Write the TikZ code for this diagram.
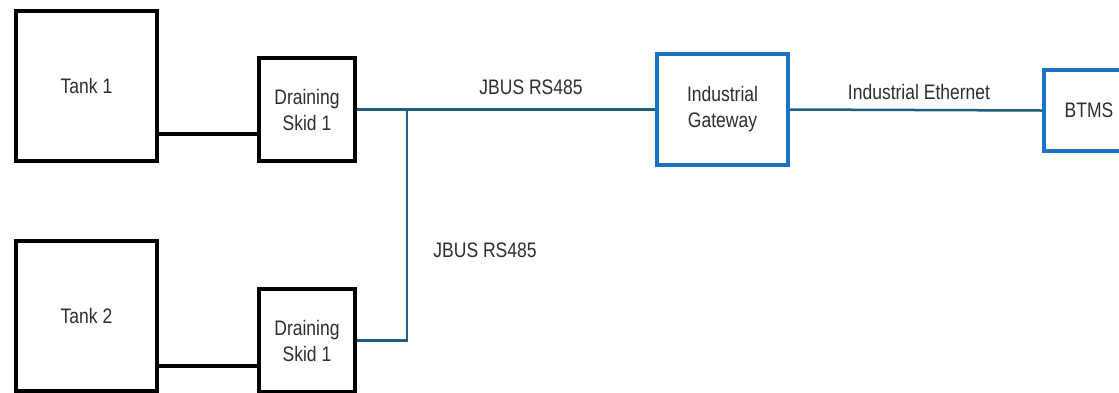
\documentclass[tikz,border=0pt]{standalone}
\usepackage{fontspec}
\setmainfont{Liberation Sans}
\usepackage{graphicx}
\usepackage{tikz}
\usetikzlibrary{positioning,calc}

\definecolor{gwblue}{HTML}{1A72C4}
\definecolor{buscol}{HTML}{1F5F82}
\definecolor{txtgray}{HTML}{2E2E2E}
\newcommand{\tallt}[1]{\scalebox{1}[1.2]{#1}}

\begin{document}
\begin{tikzpicture}[x=1pt,y=-1pt,
    unit/.style={rectangle,draw=black,line width=4pt,fill=white,inner sep=0pt,align=center,text=txtgray,font=\fontsize{17.5}{26}\selectfont},
    gate/.style={rectangle,draw=gwblue,line width=4pt,fill=white,inner sep=0pt,align=center,text=txtgray,font=\fontsize{17.5}{26}\selectfont},
    pipe/.style={draw=black,line width=4pt},
    bus/.style={draw=buscol,line width=2.5pt},
    lbl/.style={text=txtgray,inner sep=0pt,font=\fontsize{17.5}{26}\selectfont}
]
    \useasboundingbox (0,0) rectangle (1119,392);
    \clip (0,0) rectangle (1119,392);

    \node[unit,minimum width=141,minimum height=150] (tank1) at (86.5,86) {\tallt{Tank 1}};
    \node[unit,minimum width=96,minimum height=103] (skid1) at (307,109.5) {\tallt{Draining}\\\tallt{Skid 1}};
    \node[unit,minimum width=141,minimum height=150] (tank2) at (86.5,316) {\tallt{Tank 2}};
    \node[unit,minimum width=96,minimum height=103] (skid2) at (307,340.5) {\tallt{Draining}\\\tallt{Skid 1}};
    \node[gate,minimum width=131,minimum height=111] (gw) at (722.5,109.5) {\tallt{Industrial}\\\tallt{Gateway}};
    \node[gate,minimum width=90,minimum height=81] (btms) at (1089,110.5) {\tallt{BTMS}};

    \draw[pipe] ([yshift=-48pt]tank1.east) -- ([yshift=-48pt]tank1.east -| skid1.west);
    \draw[pipe] ([yshift=-50pt]tank2.east) -- ([yshift=-50pt]tank2.east -| skid2.west);

    \coordinate (tap) at (407,109.5);
    \draw[bus] (skid1.east) -- (gw.west);
    \draw[bus] (tap) |- (skid2.east);
    \draw[bus] (gw.east) -- (btms.west);

    \node[lbl] (bus1) at (531,87) {\tallt{JBUS RS485}};
    \node[lbl] (bus2) at (485,250) {\tallt{JBUS RS485}};
    \node[lbl] (eth) at (919,92) {\tallt{Industrial Ethernet}};
\end{tikzpicture}
\end{document}
